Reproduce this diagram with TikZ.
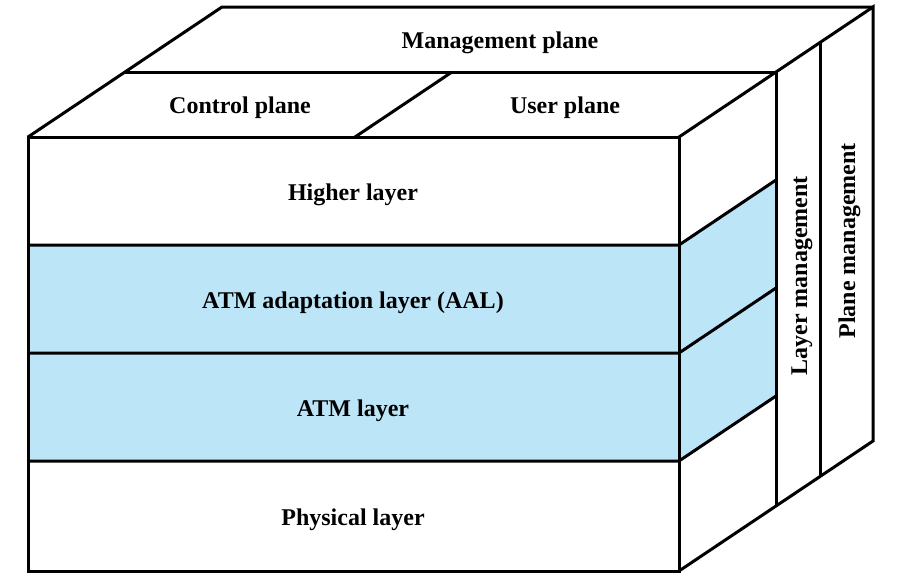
\documentclass[tikz,border=0pt]{standalone}
\usepackage{fontspec}
\setmainfont{Liberation Serif}
\definecolor{atmblue}{RGB}{189,229,248}
\tikzset{
  lbl/.style={font=\fontsize{24}{28}\selectfont\bfseries, anchor=base, inner sep=0pt},
  vlbl/.style={lbl, rotate=90}
}
\begin{document}
\begin{tikzpicture}[x=1pt,y=-1pt,line width=3pt,line join=miter]
\useasboundingbox (0,0) rectangle (902,581);
% modre vrstvy (AAL a ATM)
\fill[atmblue] (28,245) rectangle (679,461);
\fill[atmblue] (679,245) -- (776,180) -- (776,396) -- (679,461) -- cycle;
% predni stena
\draw (28,137) rectangle (679,571);
\foreach \y in {245,353,461}
    \draw (28,\y) -- (679,\y) -- (776,\y-65);
% horni plochy
\draw (28,137) -- (125,72) -- (222,7) -- (873,7);
\draw (125,72) -- (776,72);
\draw (355,137) -- (452,72);
% prava stena a sprava
\draw (679,137) -- (776,72) -- (873,7) -- (873,441) -- (776,506) -- (679,571);
\draw (776,72) -- (776,506);
\draw (820,42.5) -- (820,476.5);
% popisky
\node[lbl] (mgmt) at (500,48) {Management plane};
\node[lbl] (ctrl) at (240,113) {Control plane};
\node[lbl] (user) at (565,113) {User plane};
\node[lbl] (higher) at (353,200) {Higher layer};
\node[lbl] (aal) at (353,308) {ATM adaptation layer (AAL)};
\node[lbl] (atm) at (353,416) {ATM layer};
\node[lbl] (phy) at (353,525) {Physical layer};
\node[vlbl] (laymgmt) at (807,276) {Layer management};
\node[vlbl] (planemgmt) at (855,241) {Plane management};
\end{tikzpicture}
\end{document}
